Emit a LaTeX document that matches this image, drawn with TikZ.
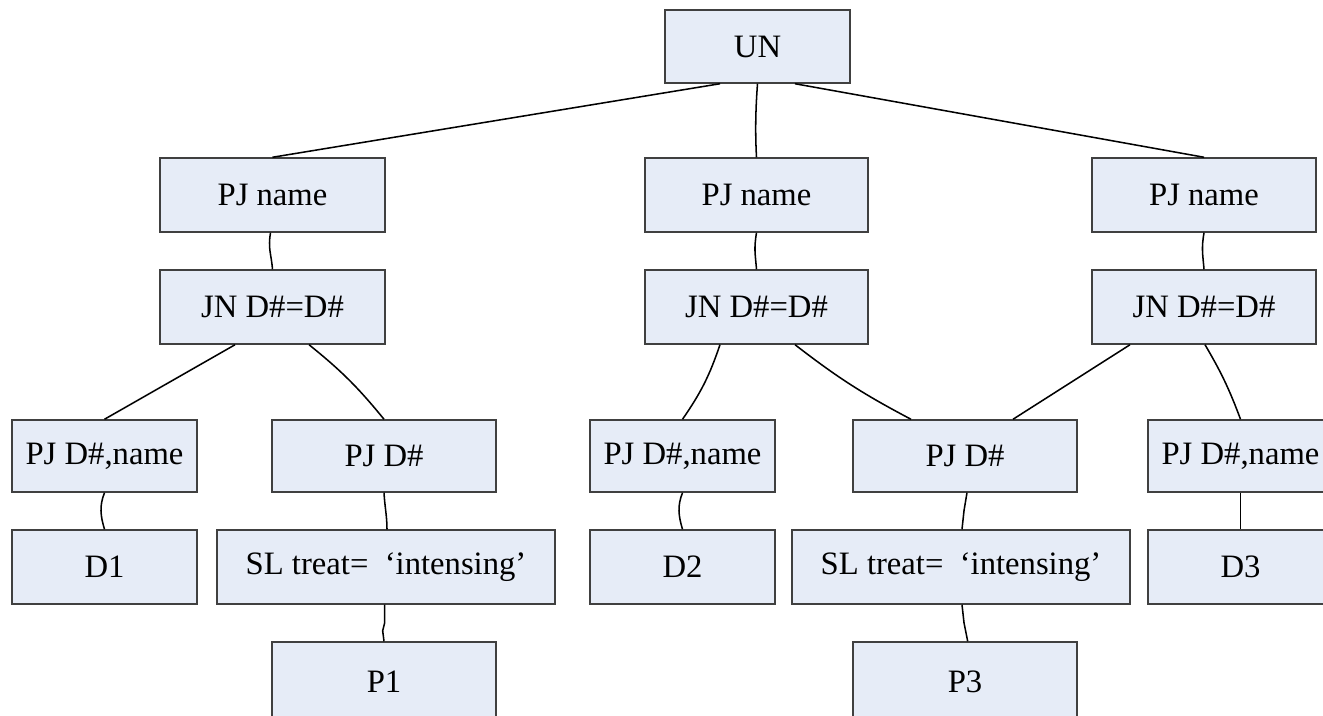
\documentclass[tikz,border=0pt]{standalone}
\usepackage{fontspec}
\setmainfont{Liberation Serif}
\definecolor{boxfill}{RGB}{230,236,247}
\definecolor{boxline}{RGB}{64,64,64}
\tikzset{
  tbox/.style={draw=boxline, fill=boxfill, line width=1.1pt, inner sep=0pt,
    font=\fontsize{24.5}{28}\selectfont},
  wire/.style={draw=black, line width=1.15pt},
}
% \bx{name}{x1}{y1}{x2}{y2}{text}: a box given by its corners in pixels (y grows downward)
\newcommand{\bx}[6]{%
  \node[tbox, minimum width={(#4-#2)*0.75pt}, minimum height={(#5-#3)*0.75pt}]
    (#1) at ({(#2+#4)/2},{-(#3+#5)/2}) {#6};}
\begin{document}
\begin{tikzpicture}[x=0.75pt, y=0.75pt]
\useasboundingbox (0,0) rectangle (1323,-716);
\begin{scope}
\clip (0,0) rectangle (1323,-716);

% root
\bx{un}{665}{10}{850}{83}{UN}

% project names
\bx{pj1}{160}{158}{385}{232}{PJ name}
\bx{pj2}{645}{158}{868}{232}{PJ name}
\bx{pj3}{1092}{158}{1316}{232}{PJ name}

% joins
\bx{jn1}{160}{270}{385}{344}{JN D\#=D\#}
\bx{jn2}{645}{270}{868}{344}{JN D\#=D\#}
\bx{jn3}{1092}{270}{1316}{344}{JN D\#=D\#}

% third row
\bx{a}{12}{420}{197}{492}{PJ D\#,name}
\bx{b}{272}{420}{496}{492}{PJ D\#}
\bx{c}{590}{420}{775}{492}{PJ D\#,name}
\bx{d}{853}{420}{1077}{492}{PJ D\#}
\bx{e}{1148}{420}{1333}{492}{PJ D\#,name}

% fourth row
\bx{d1}{12}{530}{197}{604}{D1}
\bx{sl1}{217}{530}{555}{604}{SL treat=\hspace{0.5em}‘intensing’\hspace{0.7em}}
\bx{d2}{590}{530}{775}{604}{D2}
\bx{sl2}{792}{530}{1130}{604}{SL treat=\hspace{0.5em}‘intensing’\hspace{0.7em}}
\bx{d3}{1148}{530}{1333}{604}{D3}

% bottom row
\bx{p1}{272}{642}{496}{722}{P1}
\bx{p3}{853}{642}{1077}{722}{P3}

% connectors
\draw[wire] ([xshift=-28.1pt]un.south) -- (pj1.north);
\draw[wire] (un.south) .. controls +(-1.5pt,-20pt) and +(-1pt,18pt) .. (pj2.north);
\draw[wire] ([xshift=28.1pt]un.south) -- (pj3.north);

\draw[wire] ([xshift=-1.5pt]pj1.south) .. controls +(-2pt,-12pt) and +(-1pt,12pt) .. (jn1.north);
\draw[wire] (pj2.south) .. controls +(-2pt,-12pt) and +(-1pt,12pt) .. (jn2.north);
\draw[wire] (pj3.south) .. controls +(-2pt,-12pt) and +(-1pt,12pt) .. (jn3.north);

\draw[wire] ([xshift=-28.1pt]jn1.south) -- (a.north);
\draw[wire] ([xshift=27.4pt]jn1.south) to[bend left=6] (b.north);
\draw[wire] ([xshift=-27.4pt]jn2.south) to[bend left=8] (c.north);
\draw[wire] ([xshift=28.9pt]jn2.south) to[bend right=5] ([xshift=-40.5pt]d.north);
\draw[wire] ([xshift=-55.5pt]jn3.south) -- ([xshift=36pt]d.north);
\draw[wire] ([xshift=0.75pt]jn3.south) to[bend left=5] (e.north);

\draw[wire] (a.south) .. controls +(-4pt,-10pt) and +(-3pt,10pt) .. (d1.north);
\draw[wire] (b.south) .. controls +(0.5pt,-10pt) and +(0pt,10pt) .. ([xshift=0.75pt]sl1.north);
\draw[wire] ([xshift=-1pt]sl1.south) -- ++(0,-18) -- ++(-2,-8) -- (p1.north);
\draw[wire] (c.south) .. controls +(-4pt,-10pt) and +(-3pt,10pt) .. (d2.north);
\draw[wire] ([xshift=1.5pt]d.south) -- ++(-3,-18) -- ([xshift=0.75pt]sl2.north);
\draw[wire] ([xshift=0.75pt]sl2.south) -- ++(2,-18) -- ([xshift=2pt]p3.north);
\draw[wire] (e.south) -- (d3.north);
\end{scope}
\end{tikzpicture}
\end{document}
